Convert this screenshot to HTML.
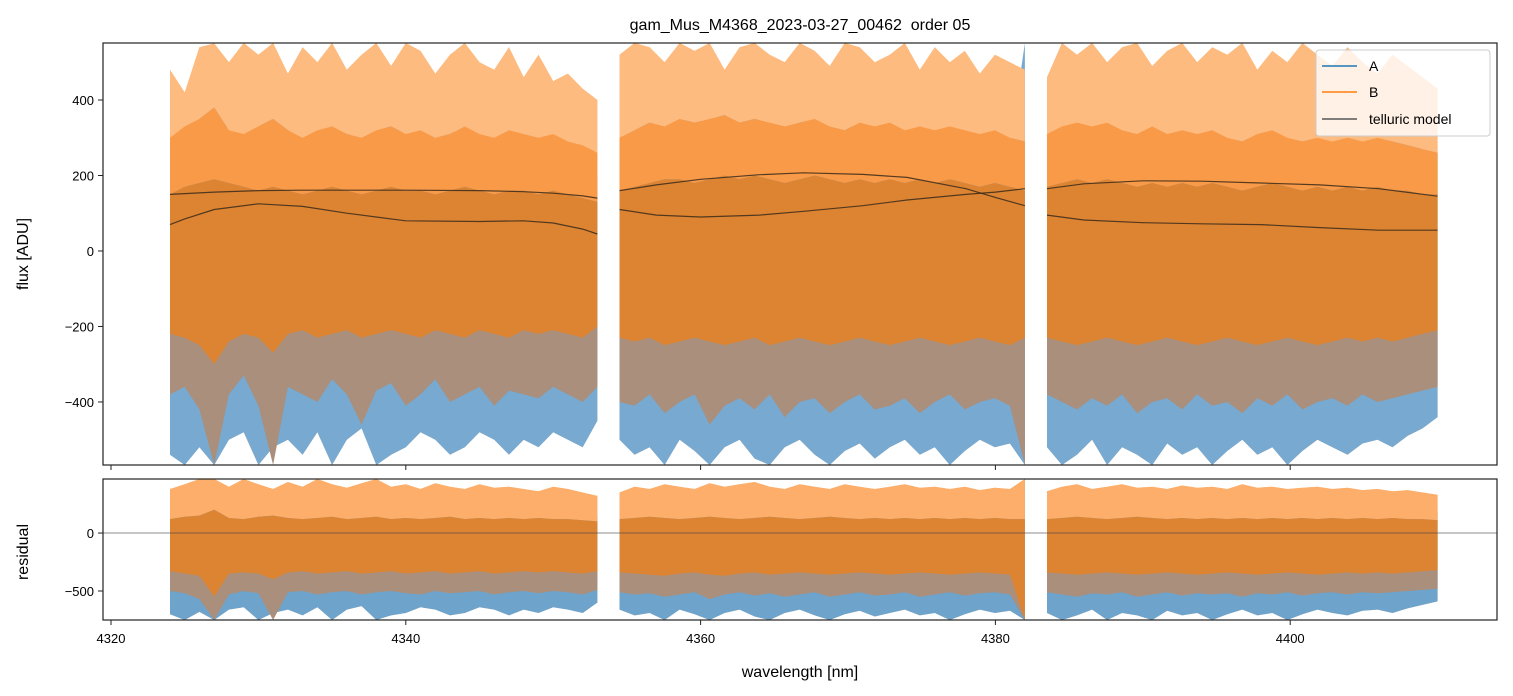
<!DOCTYPE html>
<html><head><meta charset="utf-8"><style>
html,body{margin:0;padding:0;background:#fff}
svg{display:block;font-family:"Liberation Sans","DejaVu Sans",sans-serif}
</style></head><body>
<svg id="chart" width="1513" height="696" viewBox="0 0 1513 696">
<text x="800" y="30" font-size="16" text-anchor="middle">gam_Mus_M4368_2023-03-27_00462&#160; order 05</text>
<g id="top"></g>
<g id="bot"></g>
<text x="800" y="677" font-size="16" text-anchor="middle">wavelength [nm]</text>
<text transform="translate(28,254) rotate(-90)" font-size="16" text-anchor="middle">flux [ADU]</text>
<text transform="translate(28,552) rotate(-90)" font-size="16" text-anchor="middle">residual</text>
<g id="legend-layer"></g>
</svg>
<script>
// ---- data ----
const segStart = [4324, 4354.5, 4383.5];
const segEnd = [4353, 4382, 4410];
const xTicks = [4320, 4340, 4360, 4380, 4400];
const yTicksTop = [400, 200, 0, -200, -400];
const yTicksBot = [0, -500];
const bHi = [
 [480,420,540,550,500,551,520,551,470,540,500,551,480,520,551,490,551,530,470,520,551,500,480,540,460,520,450,470,430,400],
 [520,551,540,500,551,530,551,480,540,551,520,500,551,530,490,551,540,500,520,551,480,540,500,530,470,520,500,480],
 [460,551,520,551,500,540,551,490,530,551,500,540,520,551,480,530,500,551,520,490,540,500,470,520,490,460,430]];
const mHi = [
 [300,330,350,380,320,310,330,350,320,300,320,330,310,300,320,330,310,320,300,310,330,310,300,320,310,300,310,290,280,260],
 [300,320,340,330,350,340,350,360,340,350,340,330,340,350,330,320,340,330,340,320,330,320,330,320,310,320,300,290],
 [310,330,340,330,340,320,310,330,310,320,310,320,300,290,310,320,300,290,300,290,300,290,300,290,280,270,260]];
const cHi = [
 [150,170,180,190,180,170,160,170,160,150,160,170,160,150,160,170,160,160,150,160,170,160,150,160,160,150,160,150,140,130],
 [160,170,180,190,190,180,190,200,190,200,190,180,190,200,190,180,190,180,190,180,190,180,190,180,170,180,170,160],
 [170,180,190,180,190,180,170,180,170,180,170,180,170,160,170,180,170,160,170,160,170,160,170,160,160,150,150]];
const cLo = [
 [-220,-230,-250,-300,-240,-220,-230,-270,-220,-210,-230,-220,-210,-230,-220,-210,-220,-230,-210,-220,-230,-210,-220,-230,-210,-220,-210,-220,-230,-200],
 [-230,-240,-230,-250,-240,-230,-240,-250,-240,-230,-250,-240,-230,-240,-250,-240,-230,-240,-250,-240,-230,-240,-250,-240,-230,-240,-250,-230],
 [-230,-240,-250,-240,-230,-240,-250,-240,-230,-240,-250,-240,-230,-240,-250,-240,-230,-240,-250,-240,-230,-240,-230,-240,-230,-220,-210]];
const bLo = [
 [-380,-360,-420,-567,-380,-330,-410,-567,-360,-380,-400,-340,-380,-460,-370,-350,-410,-380,-340,-400,-380,-360,-410,-370,-380,-390,-360,-380,-400,-360],
 [-400,-410,-380,-430,-400,-380,-460,-410,-390,-420,-380,-440,-400,-390,-430,-400,-380,-420,-410,-390,-430,-400,-380,-420,-400,-390,-410,-567],
 [-380,-400,-420,-390,-410,-380,-430,-400,-390,-420,-380,-410,-400,-430,-390,-410,-380,-420,-400,-390,-410,-380,-400,-390,-380,-370,-360]];
const aHi = [
 [250,300,350,551,300,280,320,400,330,250,300,280,320,270,300,350,300,280,290,330,270,300,260,300,280,290,270,250,240,200],
 [300,320,350,300,340,360,320,380,340,360,320,300,350,330,300,340,320,300,330,310,300,320,310,300,290,300,280,551],
 [280,300,320,300,290,320,300,280,310,290,300,320,280,300,290,310,280,300,290,280,300,290,280,300,290,270,260]];
const aLo = [
 [-540,-567,-520,-567,-500,-480,-567,-520,-500,-540,-480,-567,-500,-470,-567,-540,-520,-480,-500,-540,-520,-480,-500,-540,-500,-520,-480,-500,-520,-450],
 [-500,-540,-520,-567,-500,-530,-567,-520,-500,-550,-567,-520,-500,-540,-567,-530,-510,-550,-520,-500,-540,-520,-567,-530,-500,-520,-510,-567],
 [-520,-567,-540,-500,-567,-520,-540,-567,-510,-540,-520,-567,-530,-500,-540,-520,-567,-530,-500,-520,-540,-510,-500,-520,-490,-470,-440]];
const tellWave = [[4324,4325,4327,4330,4333,4336,4340,4345,4348,4350,4352,4353],[4354.5,4357,4360,4364,4367,4371,4374,4378,4380,4382],[4383.5,4386,4390,4394,4398,4402,4406,4410]];
const tellUp = [[150,152,156,160,161,161,161,160,157,153,146,140],[160,175,190,202,207,203,195,165,142,120],[165,178,186,185,180,175,165,145]];
const tellLo = [[70,85,110,125,118,100,80,78,80,74,58,45],[110,95,90,95,105,120,135,150,156,165],[95,82,75,72,70,62,55,55]];
const rbHi = [[380,420,466,466,400,466,420,380,440,400,466,420,390,430,466,400,420,380,430,400,380,420,390,400,380,360,400,380,350,320],
 [350,400,380,420,400,380,430,400,420,440,400,380,420,400,380,420,400,380,400,420,390,400,380,400,370,390,380,466],
 [360,400,420,380,400,420,390,400,380,410,390,400,380,420,390,400,380,390,400,380,390,370,380,360,370,350,330]];
const rcHi = [[120,140,150,200,130,120,140,150,130,120,130,140,120,130,140,120,130,120,130,140,120,130,120,130,120,130,120,120,110,100],
 [120,130,140,130,120,130,140,130,120,130,140,130,120,130,140,130,120,130,120,130,120,130,120,130,120,130,120,120],
 [120,130,140,130,120,130,140,130,120,130,120,130,120,130,120,130,120,130,120,130,120,130,120,130,120,120,110]];
const rcLo = [[-330,-350,-370,-550,-350,-340,-350,-400,-340,-330,-350,-340,-330,-350,-340,-330,-350,-340,-330,-350,-340,-330,-350,-340,-330,-340,-330,-340,-350,-330],
 [-340,-350,-360,-370,-350,-340,-360,-370,-350,-340,-360,-350,-340,-350,-360,-350,-340,-350,-360,-350,-340,-350,-360,-350,-340,-350,-360,-750],
 [-340,-350,-360,-350,-340,-350,-360,-350,-340,-350,-360,-350,-340,-350,-360,-350,-340,-350,-360,-350,-340,-350,-340,-350,-340,-330,-320]];
const rbLo = [[-500,-520,-570,-750,-530,-500,-520,-750,-510,-500,-530,-510,-500,-530,-510,-500,-520,-530,-500,-520,-510,-500,-530,-510,-500,-520,-500,-510,-530,-490],
 [-510,-530,-520,-550,-530,-510,-570,-530,-510,-540,-520,-550,-530,-510,-550,-530,-510,-540,-530,-510,-550,-530,-510,-540,-520,-510,-530,-750],
 [-510,-530,-550,-520,-530,-510,-550,-530,-510,-540,-520,-530,-520,-550,-520,-530,-510,-540,-520,-510,-530,-510,-520,-510,-500,-490,-480]];
const raHi = [[200,250,300,466,230,220,250,300,260,210,230,220,250,210,230,260,230,220,230,250,210,230,200,230,210,220,210,200,190,160],
 [220,250,270,240,260,280,250,290,260,270,250,230,260,250,230,260,250,230,250,240,230,250,240,230,220,230,210,466],
 [220,240,250,230,220,250,230,220,240,220,230,250,220,230,220,240,220,230,220,210,230,220,210,230,220,200,190]];
const raLo = [[-700,-750,-680,-750,-660,-640,-750,-690,-660,-710,-640,-750,-660,-630,-750,-710,-690,-640,-660,-710,-690,-640,-660,-710,-660,-690,-640,-660,-690,-600],
 [-660,-710,-690,-750,-660,-700,-750,-690,-660,-720,-750,-690,-660,-710,-750,-700,-670,-720,-690,-660,-710,-690,-750,-700,-660,-690,-670,-750],
 [-690,-750,-710,-660,-750,-690,-710,-750,-670,-710,-690,-750,-700,-660,-710,-690,-750,-700,-660,-690,-710,-670,-660,-690,-650,-620,-590]];

// ---- axes ----
const X0=103, X1=1497;
const xs = w => 111 + (w-4320)*14.74;
const TOP={y0:43,y1:465,max:551,min:-567};
const BOT={y0:479,y1:620,max:466,min:-750};
const ys = (p,v) => p.y0 + (p.max - Math.max(p.min, Math.min(p.max, v)))/(p.max-p.min)*(p.y1-p.y0);
const NS='http://www.w3.org/2000/svg';
function mk(parent, tag, attrs){const e=document.createElementNS(NS,tag);for(const k in attrs)e.setAttribute(k,attrs[k]);parent.appendChild(e);return e;}
function xOf(s,i,n){return segStart[s] + i*(segEnd[s]-segStart[s])/(n-1);}
function band(g, p, s, hi, lo, fill, name){
  const n=hi.length;
  const pts=[];
  for(let i=0;i<n;i++){pts.push(xs(xOf(s,i,n)).toFixed(1)+','+ys(p,hi[i]).toFixed(1));}
  for(let i=n-1;i>=0;i--){pts.push(xs(xOf(s,i,n)).toFixed(1)+','+ys(p,lo[i]).toFixed(1));}
  const e=mk(g,'polygon',{points:pts.join(' '),fill:fill});
  
  
}
function panel(gid,p,ticks){
  const g=document.getElementById(gid);
  const cp=mk(g,'clipPath',{id:'cp'+gid});mk(cp,'rect',{x:X0,y:p.y0,width:X1-X0,height:p.y1-p.y0});
  const d=mk(g,'g',{'clip-path':'url(#cp'+gid+')'});
  mk(g,'rect',{x:X0,y:p.y0,width:X1-X0,height:p.y1-p.y0,fill:'none',stroke:'#222','stroke-width':1.2});
  ticks.forEach(t=>{const y=ys(p,t);
    const l=mk(g,'line',{x1:X0-5,x2:X0,y1:y,y2:y,stroke:'#222'});
    
    
    const tx=mk(g,'text',{x:X0-9,y:y+5,'font-size':13,'text-anchor':'end'});tx.textContent=t===0?'0':(t<0?'\u2212'+(-t):t);
    
    
  });
  xTicks.forEach(t=>{mk(g,'line',{x1:xs(t),x2:xs(t),y1:p.y1,y2:p.y1+5,stroke:'#222'});});
  return d;
}
const dTop=panel('top',TOP,yTicksTop);
for(let s=0;s<3;s++){
  band(dTop,TOP,s,bHi[s],aLo[s],'#fdd0a6','series-b-sparse');
  band(dTop,TOP,s,aHi[s],aLo[s],'#78a9d0','series-a-band');
  band(dTop,TOP,s,bHi[s],mHi[s],'#fdbb80','series-b-upper');
  band(dTop,TOP,s,mHi[s],cHi[s],'#f99a48','series-b-mid');
  band(dTop,TOP,s,cLo[s],bLo[s],'#a98f7c','series-ab-mixed');
  band(dTop,TOP,s,cHi[s],cLo[s],'#dd8433','series-b-core');
}
for(let s=0;s<3;s++){
  [tellUp,tellLo].forEach(arr=>{
    const pts=tellWave[s].map((w,i)=>xs(w).toFixed(1)+','+ys(TOP,arr[s][i]).toFixed(1)).join(' ');
    const l=mk(dTop,'polyline',{points:pts,fill:'none',stroke:'#3a2a1a','stroke-width':1.2,'stroke-opacity':0.85,'stroke-linejoin':'round'});
    
    
  });
}
const dBot=panel('bot',BOT,yTicksBot);
for(let s=0;s<3;s++){
  band(dBot,BOT,s,rbHi[s],raLo[s],'#fdd0a6','residual-sparse');
  band(dBot,BOT,s,raHi[s],raLo[s],'#6ea3cc','residual-a-band');
  band(dBot,BOT,s,rbHi[s],rcHi[s],'#fcae6a','residual-b-upper');
  band(dBot,BOT,s,rcLo[s],rbLo[s],'#a98f7c','residual-mixed');
  band(dBot,BOT,s,rcHi[s],rcLo[s],'#dd8433','residual-core');
}
mk(dBot,'line',{x1:X0,x2:X1,y1:ys(BOT,0),y2:ys(BOT,0),stroke:'#444','stroke-width':0.8,'stroke-opacity':0.8});
const gb=document.getElementById('bot');
xTicks.forEach(t=>{const tx=mk(gb,'text',{x:xs(t),y:643,'font-size':13,'text-anchor':'middle'});tx.textContent=t;
  
  
});
// legend drawn last so it sits above the data
const lg=document.getElementById('legend-layer');


mk(lg,'rect',{x:1316,y:50,width:174,height:86,rx:3,fill:'#fff','fill-opacity':0.8,stroke:'#ccc'});
[['A','#1f77b4',66,'legend-entry-a'],['B','#ff7f0e',92,'legend-entry-b'],['telluric model','#555',119,'legend-entry-telluric']].forEach(e=>{
  const l=mk(lg,'line',{x1:1322,x2:1357,y1:e[2],y2:e[2],stroke:e[1],'stroke-width':1.5});
  
  
  const t=mk(lg,'text',{x:1369,y:e[2]+5,'font-size':14});t.textContent=e[0];
  
  
});
</script>
</body></html>
